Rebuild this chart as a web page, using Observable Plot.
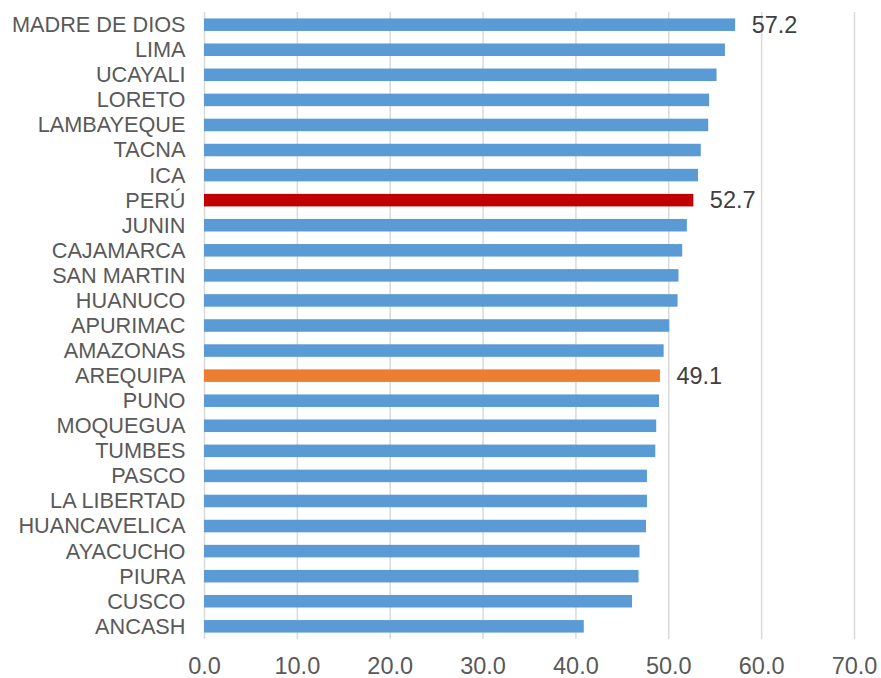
<!DOCTYPE html>
<html>
<head>
<meta charset="utf-8">
<script src="https://cdn.jsdelivr.net/npm/d3@7"></script>
<script src="https://cdn.jsdelivr.net/npm/@observablehq/plot@0.6"></script>
<style>
  body { margin: 0; background: #fff; }
  #chart svg { display: block; }
</style>
</head>
<body>
<div id="chart"></div>
<script>
const regions = ["MADRE DE DIOS","LIMA","UCAYALI","LORETO","LAMBAYEQUE","TACNA","ICA","PERÚ","JUNIN","CAJAMARCA","SAN MARTIN","HUANUCO","APURIMAC","AMAZONAS","AREQUIPA","PUNO","MOQUEGUA","TUMBES","PASCO","LA LIBERTAD","HUANCAVELICA","AYACUCHO","PIURA","CUSCO","ANCASH"];
const values = [57.2,56.1,55.2,54.4,54.3,53.5,53.2,52.7,52.0,51.5,51.1,51.0,50.1,49.5,49.1,49.0,48.7,48.6,47.7,47.7,47.6,46.9,46.8,46.1,40.9];
const labelled = ["MADRE DE DIOS","PERÚ","AREQUIPA"];
const xTicks = [0,10,20,30,40,50,60,70];

const colorOf = r => r === "PERÚ" ? "#C00000" : r === "AREQUIPA" ? "#ED7D31" : "#5B9BD5";
const data = regions.map((r, i) => ({region: r, value: values[i], color: colorOf(r)}));

const chart = Plot.plot({
  width: 881,
  height: 678,
  marginTop: 12,
  marginBottom: 39,
  marginLeft: 204,
  marginRight: 27,
  style: {fontFamily: "'Liberation Sans', Arial, sans-serif", color: "#595959", background: "#fff"},
  x: {domain: [0, 70], ticks: xTicks, tickFormat: d => d.toFixed(1), label: null},
  y: {domain: regions, paddingInner: 0.5, paddingOuter: 0.256, round: false, label: null},
  marks: [
    Plot.ruleX(xTicks, {stroke: "#d9d9d9", strokeWidth: 1.5}),
    Plot.barX(data, {y: "region", x: "value", fill: "color"}),
    Plot.text(data.filter(d => labelled.includes(d.region)), {
      y: "region", x: "value", text: d => d.value.toFixed(1),
      textAnchor: "start", dx: 16, fontSize: 23.5, fill: "#404040"
    }),
    Plot.axisX({ticks: xTicks, tickSize: 0, tickPadding: 18, fontSize: 23.5, fill: "#595959", tickFormat: d => d.toFixed(1), label: null}),
    Plot.axisY({tickSize: 0, tickPadding: 19, fontSize: 21.7, fill: "#595959", label: null})
  ]
});
document.getElementById("chart").appendChild(chart);
</script>
</body>
</html>
